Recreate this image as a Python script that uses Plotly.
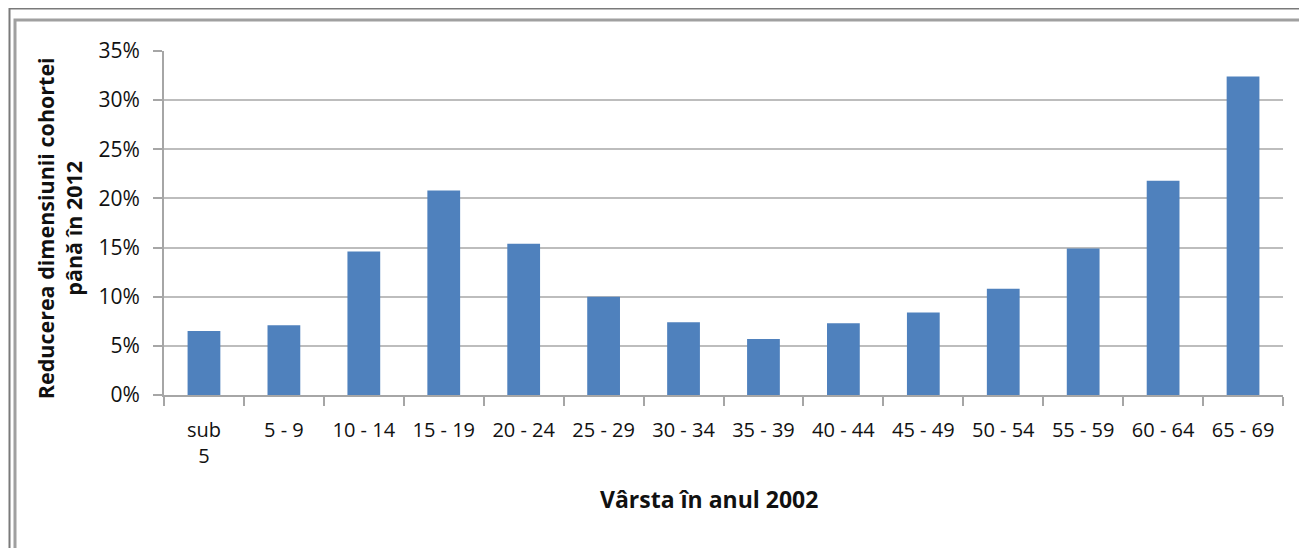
import plotly.graph_objects as go

categories = ["sub<br>5", "5 - 9", "10 - 14", "15 - 19", "20 - 24", "25 - 29", "30 - 34",
              "35 - 39", "40 - 44", "45 - 49", "50 - 54", "55 - 59", "60 - 64", "65 - 69"]
values = [6.5, 7.1, 14.6, 20.8, 15.4, 10.0, 7.4, 5.7, 7.3, 8.4, 10.8, 14.9, 21.8, 32.4]
y_ticks = [0, 5, 10, 15, 20, 25, 30, 35]

OFF = 8  # page body margin
W, H = 1307 - OFF, 548 - OFF
L, R, T, B = 164 - OFF, 24, 51 - OFF, 152.5
pw, ph = W - L - R, H - T - B

def px(x):
    return (x - OFF - L) / pw

def py(y):
    return (H - B - (y - OFF)) / ph

FONT = "Open Sans"
TXT = "#111111"

fig = go.Figure(go.Bar(x=categories, y=values, marker=dict(color="#4F81BD", line=dict(width=0)),
                       width=0.41))

fig.update_layout(
    width=W, height=H,
    margin=dict(l=L, r=R, t=T, b=B, autoexpand=False),
    paper_bgcolor="white", plot_bgcolor="white",
    showlegend=False,
    font=dict(family=FONT, size=20, color=TXT),
)
fig.update_xaxes(
    type="category", showline=True, linecolor="#a6a6a6", linewidth=2,
    ticks="outside", tickson="boundaries", ticklen=9, tickcolor="#a6a6a6", tickwidth=2,
    showgrid=False, tickangle=0, ticklabelstandoff=16,
    tickfont=dict(family=FONT, size=20, color=TXT),
)
fig.update_yaxes(
    range=[0, 35], tickvals=y_ticks, ticktext=[f"{v}%" for v in y_ticks],
    showline=True, linecolor="#a6a6a6", linewidth=2,
    ticks="outside", ticklen=9, tickcolor="#a6a6a6", tickwidth=2,
    showgrid=True, gridcolor="#bdbdbd", gridwidth=2, zeroline=False,
    ticklabelstandoff=9,
    tickfont=dict(family=FONT, size=21, color=TXT),
)

fig.add_annotation(
    text="<b>Reducerea dimensiunii cohortei<br>până în 2012</b>",
    x=px(59.5), y=py(229), xref="paper", yref="paper", textangle=-90,
    showarrow=False, xanchor="center", yanchor="middle",
    font=dict(family=FONT, size=21.5, color=TXT),
)
fig.add_annotation(
    text="<b>Vârsta în anul 2002</b>",
    x=px(709), y=py(500), xref="paper", yref="paper",
    showarrow=False, xanchor="center", yanchor="middle",
    font=dict(family=FONT, size=23, color=TXT),
)

# frame
fig.add_shape(type="rect", xref="paper", yref="paper",
              x0=px(9.5), y0=py(570), x1=px(1330), y1=py(8.5),
              line=dict(color="#7a7a7a", width=2), layer="below")
fig.add_shape(type="rect", xref="paper", yref="paper",
              x0=px(15), y0=py(570), x1=px(1330), y1=py(20),
              line=dict(color="#a0a0a0", width=3), layer="below")

fig.write_html("out.html")
